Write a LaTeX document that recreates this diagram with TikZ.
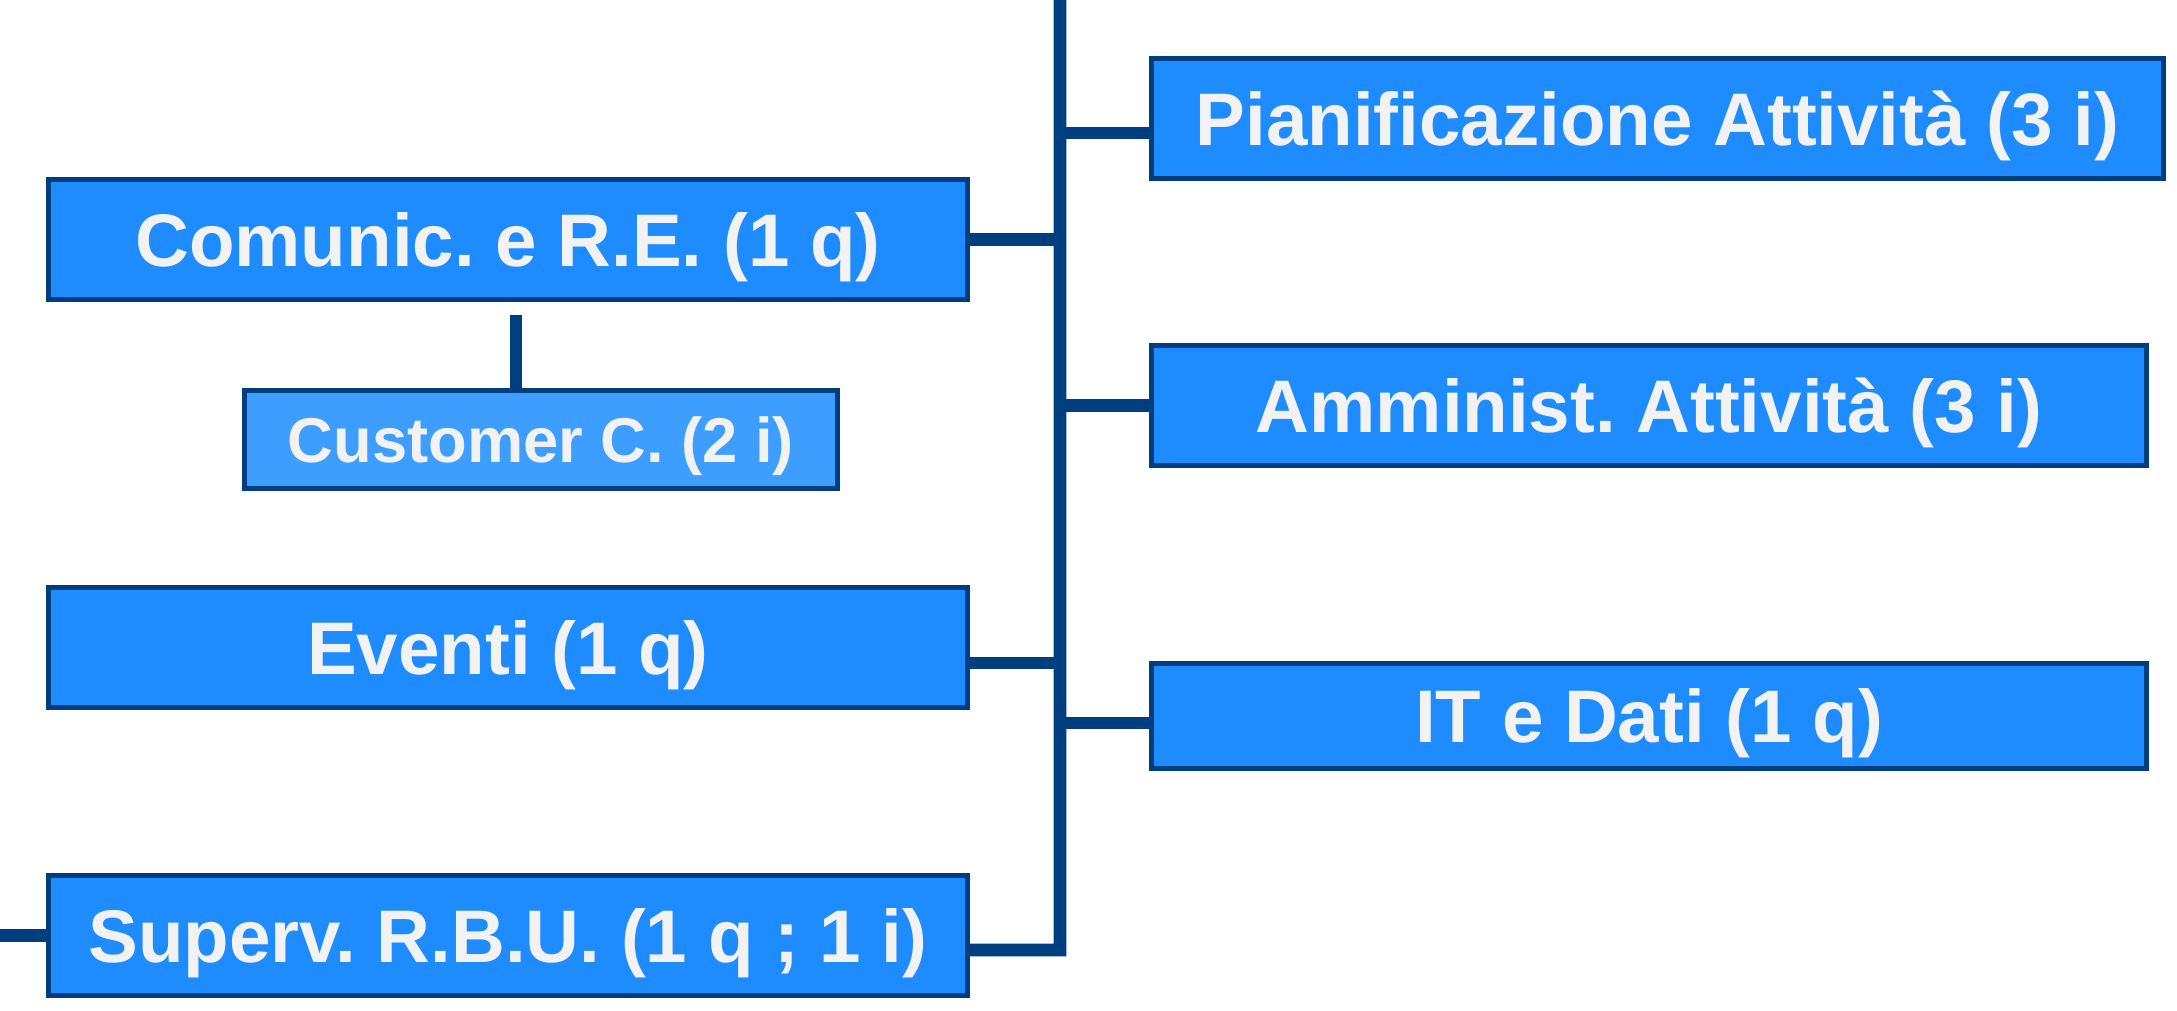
\documentclass[tikz,border=0pt]{standalone}
\usepackage{fontspec}
\setmainfont{Liberation Sans}
\frenchspacing
\definecolor{boxblue}{RGB}{30,140,255}
\definecolor{lightblue}{RGB}{61,158,255}
\definecolor{navy}{RGB}{0,63,127}
\definecolor{txt}{RGB}{242,242,242}
\begin{document}
\begin{tikzpicture}[
		unit/.style={draw=navy, line width=1.4pt, fill=boxblue, text=txt, inner sep=0pt,
			text height=15.2pt, text depth=0pt,
			font=\fontsize{21.2}{25}\selectfont\bfseries, minimum height=1.2cm},
		subunit/.style={unit, fill=lightblue, text height=12.9pt,
			font=\fontsize{18}{22}\selectfont\bfseries, minimum height=0.98cm},
		link/.style={navy, line width=3.6pt}
	]
		\useasboundingbox (0,0) rectangle (21.77,10.10);
		% left column
		\node[unit, minimum width=9.19cm] (comunic) at (5.08,7.705) {Comunic. e R.E. (1 q)};
		\node[subunit, minimum width=5.93cm] (customer) at (5.41,5.705) {Customer C. (2 i)};
		\node[unit, minimum width=9.19cm] (eventi) at (5.08,3.625) {Eventi (1 q)};
		\node[unit, minimum width=9.19cm] (superv) at (5.08,0.745) {Superv. R.B.U. (1 q ; 1 i)};
		% right column
		\node[unit, minimum width=10.12cm] (pianif) at (16.575,8.915) {Pianificazione Attività (3 i)};
		\node[unit, minimum width=9.95cm] (amminist) at (16.49,6.045) {Amminist. Attività (3 i)};
		\node[unit, minimum width=9.95cm, minimum height=1.05cm] (itdati) at (16.49,2.94) {IT e Dati (1 q)};
		% spine
		\coordinate (top) at (10.60,10.30);
		\coordinate (bottom) at (10.60,0.60);
		\coordinate (edge) at (0,0);
		\coordinate (cctop) at (5.16,6.95);
		\draw[link] ([yshift=-1.45mm]superv.east) -- (bottom) -- (top);
		\draw[link] (superv.west) -- (superv.west -| edge);
		\draw[link] (comunic.east) -- (comunic.east -| top);
		\draw[link] ([yshift=-1.55mm]eventi.east) -- ([yshift=-1.55mm]eventi.east -| top);
		\draw[link] ([yshift=-1.45mm]pianif.west) -- ([yshift=-1.45mm]pianif.west -| top);
		\draw[link] (amminist.west) -- (amminist.west -| top);
		\draw[link] ([yshift=-0.7mm]itdati.west) -- ([yshift=-0.7mm]itdati.west -| top);
		\draw[link] (cctop) -- (cctop |- customer.north);
	\end{tikzpicture}
\end{document}
